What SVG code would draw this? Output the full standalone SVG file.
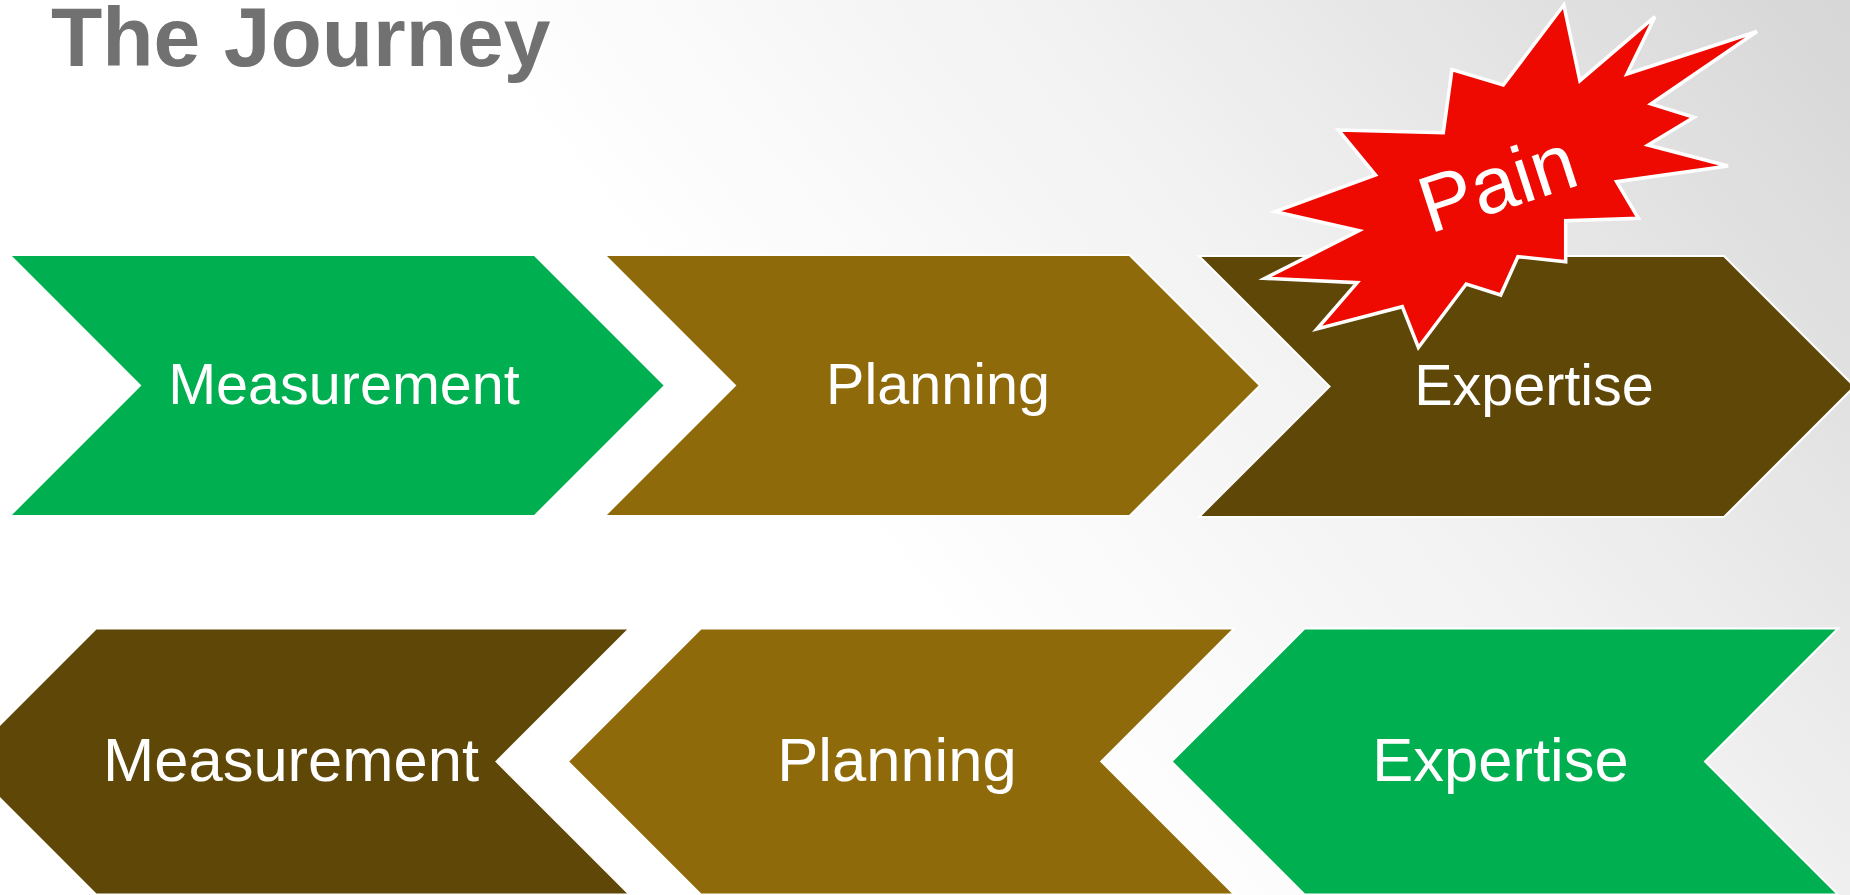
<svg xmlns="http://www.w3.org/2000/svg" width="1850" height="895" viewBox="0 0 1850 895">
  <defs>
    <linearGradient id="bg" gradientUnits="userSpaceOnUse" x1="1850" y1="0" x2="1000" y2="700">
      <stop offset="0" stop-color="#d6d6d6"/>
      <stop offset="0.55" stop-color="#f1f1f1"/>
      <stop offset="1" stop-color="#ffffff"/>
    </linearGradient>
  </defs>
  <style>
    .chev { stroke: #ffffff; stroke-width: 2; stroke-linejoin: miter; }
    .green { fill: #00af50; }
    .gold { fill: #8f6a0a; }
    .dark { fill: #5f4708; }
    .label { font-family: "Liberation Sans", Arial, sans-serif; fill: #ffffff; text-anchor: middle; }
    .top { font-size: 57.5px; }
    .bottom { font-size: 61.5px; }
    .title { font-family: "Liberation Sans", Arial, sans-serif; font-weight: bold; font-size: 84px; fill: #717171; }
    .burst { fill: #ee0a00; stroke: #ffffff; stroke-width: 3.5; stroke-linejoin: miter; }
    .pain { font-family: "Liberation Sans", Arial, sans-serif; font-size: 80px; fill: #ffffff; text-anchor: middle; }
  </style>

  <rect width="1850" height="895" fill="url(#bg)"/>

  <text class="title" x="51" y="66">The Journey</text>

  <!-- forward row -->
  <g id="measurement-top">
    <polygon class="chev green" points="9.5,255 534.5,255 665,385.5 534.5,516 9.5,516 140,385.5"/>
    <text class="label top" x="344" y="403.5">Measurement</text>
  </g>
  <g id="planning-top">
    <polygon class="chev gold" points="604.5,255 1129.5,255 1260,385.5 1129.5,516 604.5,516 735,385.5"/>
    <text class="label top" x="938" y="403.5">Planning</text>
  </g>
  <g id="expertise-top">
    <polygon class="chev dark" points="1199,256 1724,256 1854.5,386.5 1724,517 1199,517 1329.5,386.5"/>
    <text class="label top" x="1534" y="404.5">Expertise</text>
  </g>

  <!-- reverse row -->
  <g id="measurement-bottom">
    <polygon class="chev dark" points="96,628.5 629.5,628.5 496.5,761.5 629.5,894.5 96,894.5 -37,761.5"/>
    <text class="label bottom" x="291" y="781">Measurement</text>
  </g>
  <g id="planning-bottom">
    <polygon class="chev gold" points="700.8,628.5 1234.3,628.5 1101.3,761.5 1234.3,894.5 700.8,894.5 567.8,761.5"/>
    <text class="label bottom" x="897" y="781">Planning</text>
  </g>
  <g id="expertise-bottom">
    <polygon class="chev green" points="1304.5,628.5 1838,628.5 1705,761.5 1838,894.5 1304.5,894.5 1171.5,761.5"/>
    <text class="label bottom" x="1500.5" y="781">Expertise</text>
  </g>

  <!-- callout burst -->
  <g id="pain">
    <polygon class="burst" points="1563.8,5 1579.9,80.7 1654.9,16.7 1627,74 1757,31.5 1651,104 1694,117.3 1648,145 1728,166 1616.6,181.7 1638.4,218.3 1565.7,220.7 1565.7,261.7 1517.9,256.7 1500.7,295 1466.2,284 1418.4,347.5 1402.3,306.7 1317,329 1357.2,282.7 1265,278.3 1359,230.7 1275.5,211.7 1375.5,175 1338.5,130 1443.3,132.7 1452,69.5 1503.3,85"/>
    <text class="pain" x="1506" y="209" transform="rotate(-18 1506 209)">Pain</text>
  </g>

  <g id="connectors"/>
</svg>
